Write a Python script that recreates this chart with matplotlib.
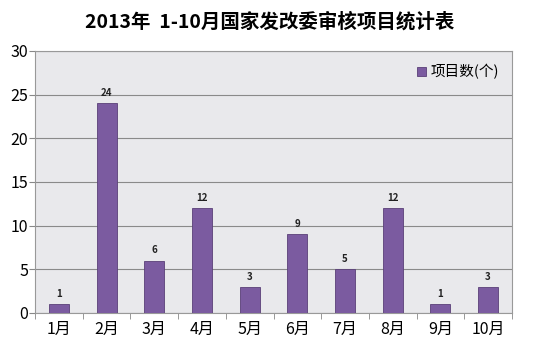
import matplotlib.pyplot as plt

plt.rcParams['font.family'] = ['Noto Sans CJK SC', 'DejaVu Sans']

months = ['1月', '2月', '3月', '4月', '5月', '6月', '7月', '8月', '9月', '10月']
counts = [1, 24, 6, 12, 3, 9, 5, 12, 1, 3]
yticks = [0, 5, 10, 15, 20, 25, 30]

fig = plt.figure(figsize=(5.4, 3.54), dpi=100)
ax = fig.add_axes([0.065, 0.116, 0.883, 0.74])
ax.set_facecolor('#e9e9ec')

x = range(len(months))
bars = ax.bar(x, counts, width=0.42, color='#7b5ba0', edgecolor='#5a4078',
              linewidth=0.6, label='项目数(个)', zorder=3)
for b, v in zip(bars, counts):
    ax.text(b.get_x() + b.get_width() / 2, v + 0.6, str(v), ha='center', va='bottom',
            fontsize=7, fontweight='bold', color='#222222', zorder=4)

ax.set_xlim(-0.5, len(months) - 0.5)
ax.set_ylim(0, 30)
ax.set_yticks(yticks)
ax.set_xticks(x)
ax.set_xticklabels(months, fontsize=11.5)
ax.tick_params(axis='y', labelsize=11.5, length=4, color='#888888', pad=1)
ax.tick_params(axis='x', length=0, pad=6)
ax.set_xticks([i - 0.5 for i in range(len(months) + 1)], minor=True)
ax.tick_params(axis='x', which='minor', length=4, color='#888888')
ax.grid(axis='y', color='#8a8a8a', linewidth=0.8, zorder=1)
for s in ax.spines.values():
    s.set_color('#999999')

ax.legend(loc='upper right', bbox_to_anchor=(1.0, 1.0), frameon=False, fontsize=10.5,
          handlelength=0.6, handleheight=0.6, handletextpad=0.3)
fig.suptitle('2013年  1-10月国家发改委审核项目统计表', y=0.965, fontsize=14,
             fontweight='bold')

fig.savefig('out.png', dpi=100)
